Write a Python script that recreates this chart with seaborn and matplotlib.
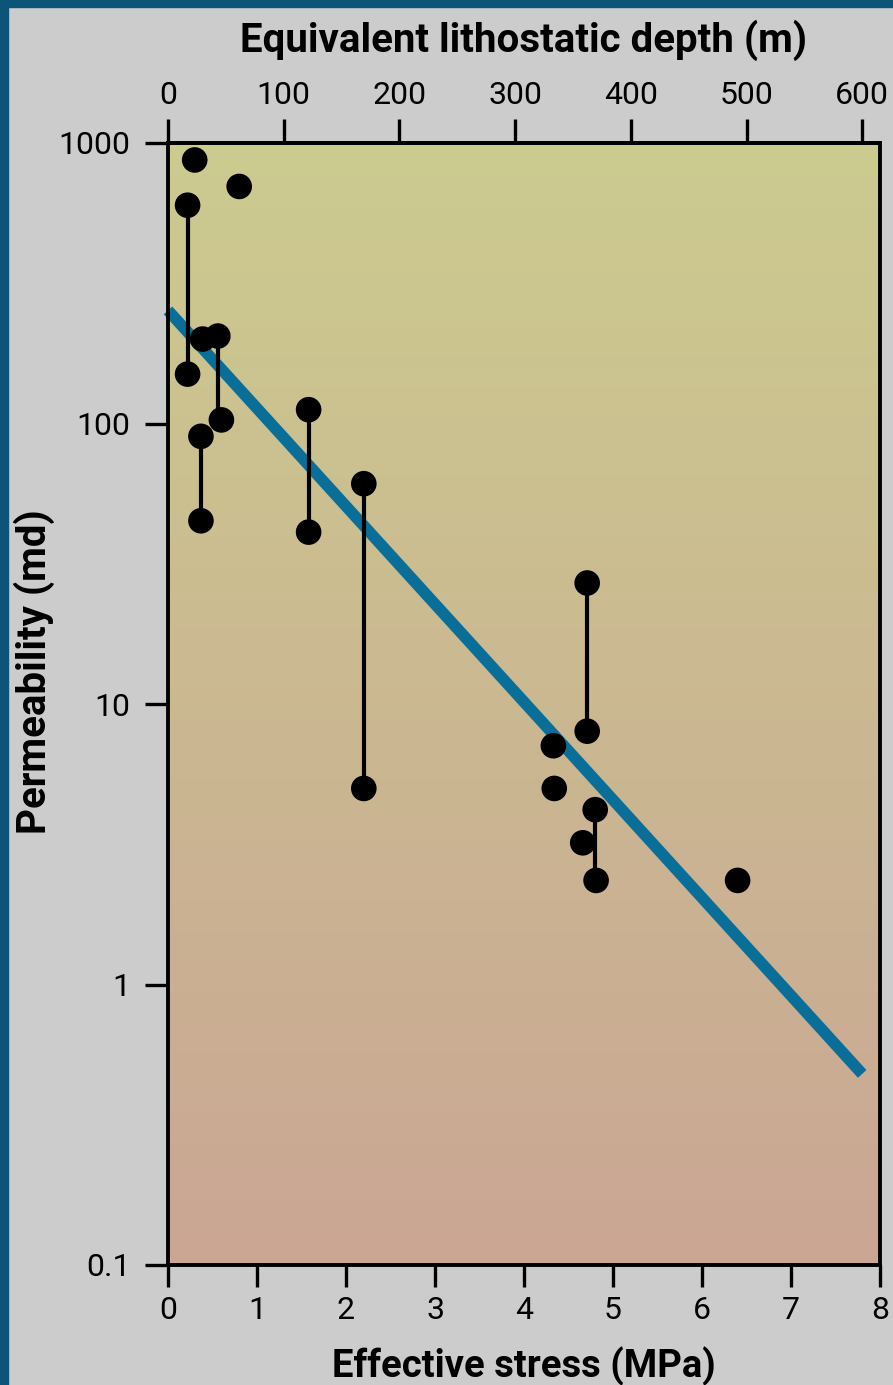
import numpy as np
import matplotlib
matplotlib.use("Agg")
import matplotlib.pyplot as plt
import seaborn as sns
from matplotlib import font_manager as fm
from matplotlib.patches import Rectangle
from matplotlib.ticker import NullLocator
from matplotlib.colors import to_rgb

# ---------------- data ----------------
stress_mpa = [0.30, 0.22, 0.80, 0.22, 0.39, 0.56, 0.60, 0.37, 0.37,
              1.58, 1.58, 2.20, 2.20, 4.71, 4.71, 4.33, 4.34, 4.80, 4.66, 4.81, 6.40]
permeability_md = [870, 600, 700, 150, 200, 205, 103, 90, 45,
                   112, 41, 61, 5.0, 27, 8.0, 7.1, 5.0, 4.2, 3.2, 2.35, 2.35]

# vertical range bars (same sample, two measurements)
pair_stress = [0.22, 0.56, 0.37, 1.58, 2.20, 4.71, 4.80]
pair_low = [150, 103, 45, 41, 5.0, 8.0, 2.35]
pair_high = [600, 205, 90, 112, 61, 27, 4.2]

# fitted trend line
fit_stress = [0.0, 7.8]
fit_perm = [253, 0.48]

x_ticks = [0, 1, 2, 3, 4, 5, 6, 7, 8]
y_ticks = [0.1, 1, 10, 100, 1000]
y_tick_labels = ["0.1", "1", "10", "100", "1000"]
depth_ticks = [0, 100, 200, 300, 400, 500, 600]
mpa_per_m = 0.013

# ---------------- style ----------------
sns.set_style("ticks")
available = {f.name for f in fm.fontManager.ttflist}
main_font = "DejaVu Sans"
for cand in ["Liberation Sans Narrow", "Roboto", "Liberation Sans"]:
    if cand in available:
        main_font = cand
        break
plt.rcParams["font.family"] = [main_font, "DejaVu Sans"]

W, H = 893, 1385
fig = plt.figure(figsize=(W / 100, H / 100), dpi=100, facecolor="#cccccc")

# thin blue strips along left/top edges
fig.patches.append(Rectangle((0, 0), 8 / W, 1, transform=fig.transFigure,
                             color="#0c5578", zorder=0))
fig.patches.append(Rectangle((0, 1 - 7 / H), 1, 7 / H, transform=fig.transFigure,
                             color="#0c5578", zorder=0))

left, right, top, bottom = 168, 880, 143, 1265
ax = fig.add_axes([left / W, 1 - bottom / H, (right - left) / W, (bottom - top) / H])
ax.set_yscale("log")

# gradient background of the plot area
c_top = np.array(to_rgb("#cccb8f"))
c_bot = np.array(to_rgb("#caa694"))
t = np.linspace(0, 1, 256)[:, None]
grad = (c_top[None, :] * (1 - t) + c_bot[None, :] * t)[:, None, :]
ax.imshow(grad, extent=[0, 1, 0, 1], transform=ax.transAxes, aspect="auto",
          zorder=0, interpolation="bilinear")

sns.lineplot(x=fit_stress, y=fit_perm, ax=ax, color="#0a6f98", linewidth=8.3,
             zorder=2, legend=False)
trend = ax.lines[-1]
trend.set_clip_on(False)
trend.set_solid_capstyle("butt")

ax.vlines(pair_stress, pair_low, pair_high, color="black", linewidth=3, zorder=3)

sns.scatterplot(x=stress_mpa, y=permeability_md, ax=ax, color="black", s=340,
                edgecolor="none", linewidth=0, zorder=4, legend=False)

ax.set_xlim(0, 8)
ax.set_ylim(0.1, 1000)
ax.set_xticks(x_ticks)
ax.set_xticklabels([str(v) for v in x_ticks])
ax.set_yticks(y_ticks)
ax.set_yticklabels(y_tick_labels)
ax.yaxis.set_minor_locator(NullLocator())
ax.xaxis.set_minor_locator(NullLocator())

for s in ax.spines.values():
    s.set_visible(True)
    s.set_linewidth(2.8)
    s.set_color("black")
    s.set_zorder(5)

ax.tick_params(axis="x", which="major", direction="out", length=16, width=2.4,
               labelsize=23, pad=6, colors="black")
ax.tick_params(axis="y", which="major", direction="out", length=16.5, width=2.4,
               labelsize=23, pad=10.5, colors="black")

secax = ax.secondary_xaxis("top", functions=(lambda s: s / mpa_per_m,
                                             lambda d: d * mpa_per_m))
secax.set_xticks(depth_ticks)
secax.set_xticklabels([str(v) for v in depth_ticks])
secax.xaxis.set_minor_locator(NullLocator())
secax.tick_params(axis="x", which="major", direction="out", length=17, width=2.4,
                  labelsize=23, pad=7, colors="black")
secax.spines["top"].set_linewidth(2.8)

ax.set_xlabel("Effective stress (MPa)", fontsize=27.5, fontweight="bold", color="black")
ax.xaxis.set_label_coords(0.5, (bottom - 1347) / (bottom - top), transform=ax.transAxes)
secax.set_xlabel("Equivalent lithostatic depth (m)", fontsize=29, fontweight="bold",
                 color="black")
secax.xaxis.set_label_coords(0.5, 1 + (top - 52) / (bottom - top), transform=ax.transAxes)
ax.set_ylabel("Permeability (md)", fontsize=29, fontweight="bold", color="black")
ax.yaxis.set_label_coords((55 - left) / (right - left), (bottom - 672) / (bottom - top),
                          transform=ax.transAxes)

fig.savefig("out.png", dpi=100, facecolor=fig.get_facecolor())
